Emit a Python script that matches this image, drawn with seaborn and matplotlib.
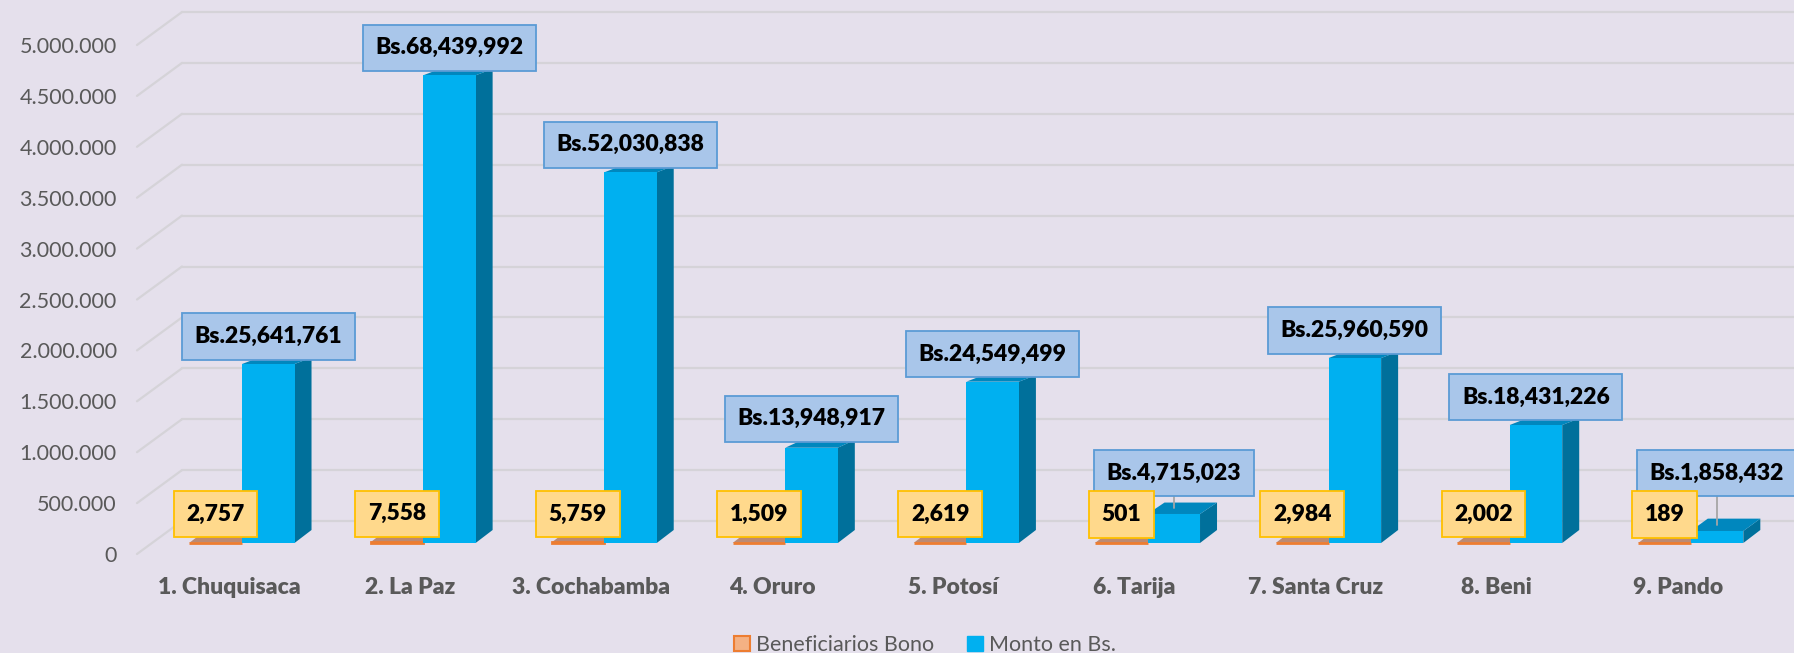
import numpy as np
import pandas as pd
import matplotlib.pyplot as plt
import seaborn as sns
from matplotlib.patches import Polygon, Patch
from matplotlib.transforms import ScaledTranslation

sns.set_style('white')
plt.rcParams['font.family'] = ['Lato', 'DejaVu Sans']

# Values
departamentos = ['1. Chuquisaca', '2. La Paz', '3. Cochabamba', '4. Oruro', '5. Potosí',
                 '6. Tarija', '7. Santa Cruz', '8. Beni', '9. Pando']
beneficiarios = [2757, 7558, 5759, 1509, 2619, 501, 2984, 2002, 189]
# heights of the blue bars as drawn on the 0 - 5.000.000 axis
monto_barra = [1758000, 4594000, 3641000, 936000, 1585000, 285000, 1817000, 1159000, 118000]
monto_etiqueta = ['Bs.25,641,761', 'Bs.68,439,992', 'Bs.52,030,838', 'Bs.13,948,917',
                  'Bs.24,549,499', 'Bs.4,715,023', 'Bs.25,960,590', 'Bs.18,431,226',
                  'Bs.1,858,432']
series = ['Beneficiarios Bono', 'Monto en Bs.']
y_ticks = np.arange(0, 5000001, 500000)

df = pd.DataFrame({
    'Departamento': departamentos * 2,
    'Serie': [series[0]] * len(departamentos) + [series[1]] * len(departamentos),
    'Valor': beneficiarios + monto_barra,
})

# Colours
bg = '#E5E0EC'
grid_c = '#D5D3D8'
txt_c = '#595959'
naranja, naranja_top = '#ED7D31', '#BC8A72'
azul, azul_top, azul_side = '#00B0F0', '#0087BE', '#00709B'

# Layout in pixels (figure 1794 x 653 at 100 dpi)
W, H = 1794, 653
PX_X = 181.1            # pixels per category
PX_Y = 101.8 / 1e6      # pixels per unit of value
X0_PX, Y0_PX = 242, 543  # pixel of category 0 / value 0
ax_left, ax_bottom = 125, 560


def dxp(p):
    return p / PX_X


def dyp(p):
    return p / PX_Y


def prof_top(v):
    # perspective: the top face looks thinner on taller bars
    return max(6.5, 13 - 5.5 * v / 1e6)


fig = plt.figure(figsize=(W / 100, H / 100), dpi=100)
fig.patch.set_facecolor(bg)
ax = fig.add_axes([ax_left / W, (H - ax_bottom) / H, 1 - ax_left / W, ax_bottom / H])
ax.set_facecolor(bg)

sns.barplot(data=df, x='Departamento', y='Valor', hue='Serie', order=departamentos,
            hue_order=series, palette=[naranja, azul], width=0.58, saturation=1,
            legend=False, ax=ax)

xmin, xmax = (ax_left - X0_PX) / PX_X, (W - X0_PX) / PX_X
ax.set_xlim(xmin, xmax)
ax.set_ylim((Y0_PX - ax_bottom) / PX_Y, Y0_PX / PX_Y)

# back wall gridlines and left wall stubs
for v in y_ticks:
    ax.plot([dxp(137 - X0_PX), dxp(182 - X0_PX)], [v - dyp(11), v + dyp(22)],
            color=grid_c, lw=1.6, zorder=0)
    ax.plot([dxp(182 - X0_PX), xmax], [v + dyp(22)] * 2, color=grid_c, lw=1.6, zorder=0)

# fake 3D faces
dx = dxp(17)
for k, cont in enumerate(ax.containers):
    z = 2 + k
    top_c = naranja_top if k == 0 else azul_top
    side_c = naranja_top if k == 0 else azul_side
    for bar in cont:
        x0 = bar.get_x()
        x1 = x0 + bar.get_width()
        top = bar.get_height()
        dyt = dyp(prof_top(top))
        bar.set_zorder(z + 0.1)
        if k == 0:
            bar.set_edgecolor(naranja)
            bar.set_linewidth(2)
        else:
            bar.set_linewidth(0)
        ax.add_patch(Polygon([(x1, 0), (x1 + dx, dyp(13)), (x1 + dx, top + dyt), (x1, top)],
                             closed=True, fc=side_c, ec='none', zorder=z))
        ax.add_patch(Polygon([(x0, top), (x0 + dx, top + dyt), (x1 + dx, top + dyt), (x1, top)],
                             closed=True, fc=top_c, ec='none', zorder=z))

# data labels
lbl_kw = dict(ha='center', va='center', fontsize=16.5, fontweight='heavy', color='black',
              zorder=7)
for i, bar in enumerate(ax.containers[1]):
    cx = bar.get_x() + bar.get_width() / 2
    top = bar.get_height()
    back_top = top + dyp(prof_top(top))
    box_bottom = max(back_top, dyp(49))
    ax.text(cx, box_bottom + dyp(21), monto_etiqueta[i], **lbl_kw,
            bbox=dict(boxstyle='square,pad=0.55', fc='#A9C6EA', ec='#5B9BD5', lw=1.3))
    if box_bottom > back_top + dyp(2):
        ax.plot([cx, cx], [top + dyp(prof_top(top)) / 2, box_bottom],
                color='#A6A6A6', lw=1.3, zorder=6)

for i, bar in enumerate(ax.containers[0]):
    cx = bar.get_x() + bar.get_width() / 2
    ax.text(cx, bar.get_height() + dyp(28.5), f'{beneficiarios[i]:,}', **lbl_kw,
            bbox=dict(boxstyle='square,pad=0.55', fc='#FFD98C', ec='#FFC000', lw=1.3))

# axes text
ax.set_xlabel('')
ax.set_ylabel('')
ax.set_yticks(y_ticks)
ax.set_yticklabels([f'{v:,.0f}'.replace(',', '.') for v in y_ticks])
ax.tick_params(axis='y', length=0, pad=6, labelsize=15.5, labelcolor=txt_c)
ax.set_xticks(range(len(departamentos)))
ax.set_xticklabels(departamentos)
ax.tick_params(axis='x', length=0, pad=12, labelsize=16.5, labelcolor=txt_c)
for lab in ax.get_yticklabels():
    lab.set_transform(lab.get_transform() + ScaledTranslation(0, -0.11, fig.dpi_scale_trans))
for lab in ax.get_xticklabels():
    lab.set_fontweight('heavy')
    lab.set_transform(lab.get_transform() + ScaledTranslation(-0.13, 0, fig.dpi_scale_trans))
for s in ax.spines.values():
    s.set_visible(False)

handles = [Patch(fc='#F4B183', ec=naranja, lw=1.5, label=series[0]),
           Patch(fc=azul, ec=azul, label=series[1])]
fig.legend(handles=handles, loc='center', bbox_to_anchor=(925 / W, 1 - 645 / H), ncol=2,
           frameon=False, fontsize=15.5, handlelength=0.75, handleheight=0.75,
           handletextpad=0.3, columnspacing=1.5, labelcolor=txt_c)

fig.savefig('out.png', dpi=100, facecolor=bg)
